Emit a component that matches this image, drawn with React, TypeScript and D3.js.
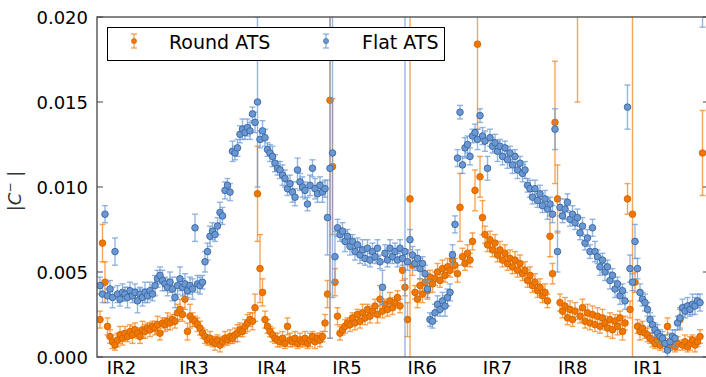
import React from 'react';
import * as d3 from 'd3';

// |C-| per BPM, in units of 1e-4
const UNIT = 1e-4;

const roundVals = [
  22, 67, 44, 18, 12, 9, 7, 10, 13, 11,
  14, 12, 15, 13, 16, 14, 12, 16, 15, 17,
  16, 18, 17, 19, 14, 20, 19, 21, 20, 22,
  21, 26, 28, 25, 34, 15, 24, 22, 21, 19,
  17, 14, 12, 10, 11, 9, 8, 10, 7, 9,
  11, 10, 12, 11, 13, 14, 16, 15, 18, 20,
  22, 21, 29, 96, 52, 38, 22, 18, 15, 13,
  11, 10, 9, 11, 8, 18, 10, 9, 11, 8,
  10, 9, 11, 8, 10, 12, 9, 11, 10, 12,
  20, 37, 151, 112, 44, 24, 14, 16, 18, 20,
  19, 23, 20, 25, 21, 26, 23, 28, 24, 27,
  30, 25, 34, 27, 31, 28, 33, 29, 32, 35,
  30, 51, 41, 22, 93, 54, 38, 34, 42, 37,
  44, 39, 47, 43, 46, 50, 45, 52, 48, 53,
  51, 57, 54, 49, 88, 59, 55, 61, 57, 68,
  98, 184, 106, 82, 72, 66, 69, 63, 67, 60,
  63, 57, 61, 55, 58, 53, 57, 51, 55, 49,
  51, 45, 48, 42, 44, 39, 41, 36, 38, 33,
  71, 49, 138, 93, 32, 27, 30, 23, 28, 22,
  27, 215, 24, 29, 21, 26, 20, 25, 19, 24,
  18, 23, 20, 17, 22, 16, 21, 18, 23, 15,
  20, 93, 28, 84, 44, 18, 15, 17, 14, 13,
  11, 10, 8, 10, 7, 9, 8, 18, 7, 9,
  6, 8, 22, 7, 9, 6, 8, 10, 7, 9,
  12, 120,
];

const roundErr = [
  5, 11, 12, 5, 4, 4, 3, 4, 5, 4,
  4, 3, 4, 5, 4, 3, 4, 5, 4, 3,
  4, 3, 4, 5, 4, 3, 4, 5, 4, 3,
  4, 5, 6, 4, 6, 5, 7, 4, 3, 4,
  4, 3, 4, 3, 4, 3, 4, 3, 4, 3,
  4, 3, 4, 3, 4, 5, 4, 3, 4, 5,
  4, 5, 8, 28, 20, 8, 5, 4, 3, 4,
  3, 4, 3, 4, 3, 5, 4, 3, 4, 3,
  4, 3, 4, 3, 4, 3, 4, 3, 4, 3,
  5, 8, 140, 40, 8, 5, 4, 3, 4, 3,
  4, 3, 4, 3, 4, 5, 4, 3, 4, 3,
  4, 5, 8, 4, 3, 4, 5, 4, 3, 4,
  4, 6, 5, 10, 300, 6, 4, 5, 4, 5,
  4, 5, 4, 5, 4, 5, 4, 5, 4, 5,
  4, 5, 4, 5, 20, 5, 4, 5, 4, 5,
  12, 50, 12, 10, 5, 4, 5, 4, 5, 4,
  5, 4, 5, 4, 5, 4, 5, 4, 5, 4,
  5, 4, 5, 4, 5, 4, 5, 4, 5, 4,
  12, 6, 36, 20, 5, 4, 5, 4, 5, 4,
  5, 65, 4, 5, 4, 5, 4, 5, 4, 5,
  4, 5, 4, 5, 4, 5, 4, 5, 4, 5,
  4, 9, 5, 300, 6, 4, 5, 4, 3, 4,
  3, 4, 3, 4, 3, 4, 3, 5, 3, 4,
  3, 4, 6, 3, 4, 3, 4, 3, 4, 3,
  4, 25,
];

const flatVals = [
  42, 37, 84, 36, 40, 35, 62, 37, 34, 38,
  37, 35, 39, 36, 38, 33, 37, 35, 38, 36,
  39, 37, 42, 46, 48, 45, 43, 41, 44, 40,
  35, 42, 46, 41, 43, 39, 42, 40, 76, 43,
  42, 44, 56, 62, 71, 74, 72, 77, 85, 83,
  98, 101, 97, 121, 120, 123, 131, 134, 132, 135,
  133, 143, 138, 150, 128, 133, 129, 122, 120, 118,
  114, 111, 110, 107, 105, 99, 102, 97, 94, 110,
  103, 100, 98, 90, 101, 111, 99, 96, 101, 97,
  99, 82, 111, 120, 59, 76, 72, 74, 68, 71,
  65, 68, 62, 66, 60, 63, 58, 64, 57, 62,
  59, 64, 56, 41, 61, 57, 64, 59, 62, 57,
  64, 58, 62, 56, 69, 60, 55, 58, 52, 55,
  49, 40, 22, 21, 26, 31, 28, 33, 30, 35,
  38, 60, 78, 117, 144, 113, 123, 125, 118, 130,
  132, 128, 142, 130, 127, 111, 129, 124, 126, 121,
  124, 118, 123, 116, 120, 113, 118, 110, 114, 108,
  110, 101, 99, 94, 99, 92, 96, 89, 93, 87,
  90, 84, 134, 62, 88, 83, 87, 91, 81, 84,
  79, 82, 73, 77, 67, 70, 62, 76, 62, 59,
  53, 57, 50, 53, 45, 48, 40, 43, 36, 39,
  33, 147, 52, 44, 68, 52, 38, 34, 32, 28,
  22, 19, 16, 14, 12, 11, 8, 4, 9, 12,
  11, 20, 23, 29, 27, 30, 28, 31, 30, 33,
  32, 215,
];

const flatErr = [
  5, 5, 5, 4, 5, 6, 8, 5, 4, 5,
  4, 6, 5, 4, 5, 7, 4, 5, 6, 4,
  5, 4, 6, 5, 5, 6, 4, 5, 6, 7,
  6, 5, 7, 5, 6, 4, 5, 6, 8, 5,
  5, 4, 6, 5, 6, 5, 4, 5, 6, 5,
  5, 4, 5, 6, 4, 5, 5, 6, 4, 5,
  5, 4, 6, 50, 5, 6, 5, 4, 5, 6,
  5, 4, 5, 6, 5, 4, 5, 6, 5, 7,
  5, 6, 5, 4, 6, 5, 6, 5, 5, 6,
  5, 22, 100, 85, 15, 5, 4, 5, 6, 4,
  5, 4, 5, 4, 5, 6, 4, 5, 4, 5,
  4, 5, 4, 10, 5, 4, 5, 4, 5, 4,
  5, 4, 300, 5, 6, 5, 4, 5, 6, 4,
  5, 5, 4, 4, 5, 5, 4, 5, 6, 5,
  5, 6, 5, 5, 4, 5, 6, 5, 5, 4,
  5, 6, 4, 5, 6, 7, 5, 4, 5, 6,
  4, 5, 4, 5, 4, 5, 4, 5, 4, 5,
  5, 4, 5, 4, 5, 4, 5, 4, 5, 6,
  4, 5, 12, 12, 5, 4, 6, 5, 4, 5,
  4, 5, 4, 5, 4, 5, 4, 5, 6, 4,
  5, 4, 5, 4, 5, 4, 5, 4, 5, 4,
  5, 13, 8, 5, 10, 6, 5, 4, 5, 4,
  4, 5, 4, 5, 4, 4, 5, 4, 5, 4,
  5, 4, 6, 5, 4, 5, 4, 6, 5, 4,
  5, 21,
];

// interaction regions, placed at BPM index
const irLabels = ['IR2', 'IR3', 'IR4', 'IR5', 'IR6', 'IR7', 'IR8', 'IR1'];
const irPos = [8.6, 37.6, 68.8, 98.8, 128.9, 159.0, 189.1, 219.2];

const yTicks = [0, 0.005, 0.01, 0.015, 0.02];

const W = 706;
const H = 377;
const LEFT = 97;
const RIGHT = 709;
const TOP = 17;
const BOTTOM = 357;
const FONT = 'DejaVu Sans, sans-serif';

const series = [
  {
    name: 'Round ATS',
    vals: roundVals,
    errs: roundErr,
    fill: '#f07800',
    edge: '#d46400',
    bar: 'rgba(245, 128, 20, 0.7)',
  },
  {
    name: 'Flat ATS',
    vals: flatVals,
    errs: flatErr,
    fill: '#6a98d2',
    edge: '#3a64a0',
    bar: 'rgba(104, 152, 212, 0.7)',
  },
];

export default function App() {
  const x = d3.scaleLinear().domain([-1.2, 243.6]).range([LEFT, RIGHT]);
  const y = d3.scaleLinear().domain([0, 0.02]).range([BOTTOM, TOP]);
  const fmt = d3.format('.3f');
  const cap = 3;

  return (
    <svg
      width={W}
      height={H}
      style={{ position: 'absolute', left: 0, top: 0, background: '#fff' }}
    >
      <defs>
        <clipPath id="plotArea">
          <rect x={LEFT} y={TOP} width={RIGHT - LEFT} height={BOTTOM - TOP} />
        </clipPath>
      </defs>

      <g clipPath="url(#plotArea)">
        {series.map((s) => (
          <g key={s.name}>
            {s.vals.map((v, i) => {
              const cx = x(i);
              const lo = y((v - s.errs[i]) * UNIT);
              const hi = y((v + s.errs[i]) * UNIT);
              return (
                <g key={i} stroke={s.bar} strokeWidth={1.4}>
                  <line x1={cx} x2={cx} y1={lo} y2={hi} />
                  <line x1={cx - cap} x2={cx + cap} y1={lo} y2={lo} />
                  <line x1={cx - cap} x2={cx + cap} y1={hi} y2={hi} />
                </g>
              );
            })}
            {s.vals.map((v, i) => (
              <circle
                key={i}
                cx={x(i)}
                cy={y(v * UNIT)}
                r={3.3}
                fill={s.fill}
                stroke={s.edge}
                strokeWidth={0.9}
              />
            ))}
          </g>
        ))}
      </g>

      {/* frame */}
      <rect
        x={LEFT}
        y={TOP}
        width={RIGHT - LEFT}
        height={BOTTOM - TOP}
        fill="none"
        stroke="#444"
        strokeWidth={1.3}
      />

      {/* y axis */}
      {yTicks.map((t) => (
        <g key={t}>
          <line x1={LEFT} x2={LEFT + 6} y1={y(t)} y2={y(t)} stroke="#444" strokeWidth={1} />
          <line x1={RIGHT} x2={RIGHT - 6} y1={y(t)} y2={y(t)} stroke="#444" strokeWidth={1} />
          <text
            x={88}
            y={y(t) + 6.5}
            textAnchor="end"
            fontFamily={FONT}
            fontSize={18}
            fill="#000"
          >
            {fmt(t)}
          </text>
        </g>
      ))}

      {/* x axis labels */}
      {irLabels.map((l, i) => (
        <text
          key={l}
          x={x(irPos[i])}
          y={374}
          textAnchor="middle"
          fontFamily={FONT}
          fontSize={18}
          fill="#000"
        >
          {l}
        </text>
      ))}

      {/* y label */}
      <text
        transform="translate(21, 191) rotate(-90)"
        textAnchor="middle"
        fontFamily={FONT}
        fontSize={18}
        fill="#333"
      >
        <tspan>|</tspan>
        <tspan fontStyle="italic">C</tspan>
        <tspan fontSize={12} dy={-7}>−</tspan>
        <tspan dy={7}> |</tspan>
      </text>

      {/* legend */}
      <rect x={107.5} y={27.5} width={337} height={33} fill="#fff" stroke="#000" strokeWidth={1} />
      {series.map((s, k) => {
        const lx = k === 0 ? 134 : 326;
        const tx = k === 0 ? 169 : 362;
        return (
          <g key={s.name}>
            <g stroke={s.bar} strokeWidth={1.4}>
              <line x1={lx} x2={lx} y1={34} y2={48} />
              <line x1={lx - cap} x2={lx + cap} y1={34} y2={34} />
              <line x1={lx - cap} x2={lx + cap} y1={48} y2={48} />
            </g>
            <circle cx={lx} cy={41} r={2.6} fill={s.fill} stroke={s.edge} strokeWidth={0.6} />
            <text x={tx} y={48.5} fontFamily={FONT} fontSize={19} fill="#000">
              {s.name}
            </text>
          </g>
        );
      })}
    </svg>
  );
}
